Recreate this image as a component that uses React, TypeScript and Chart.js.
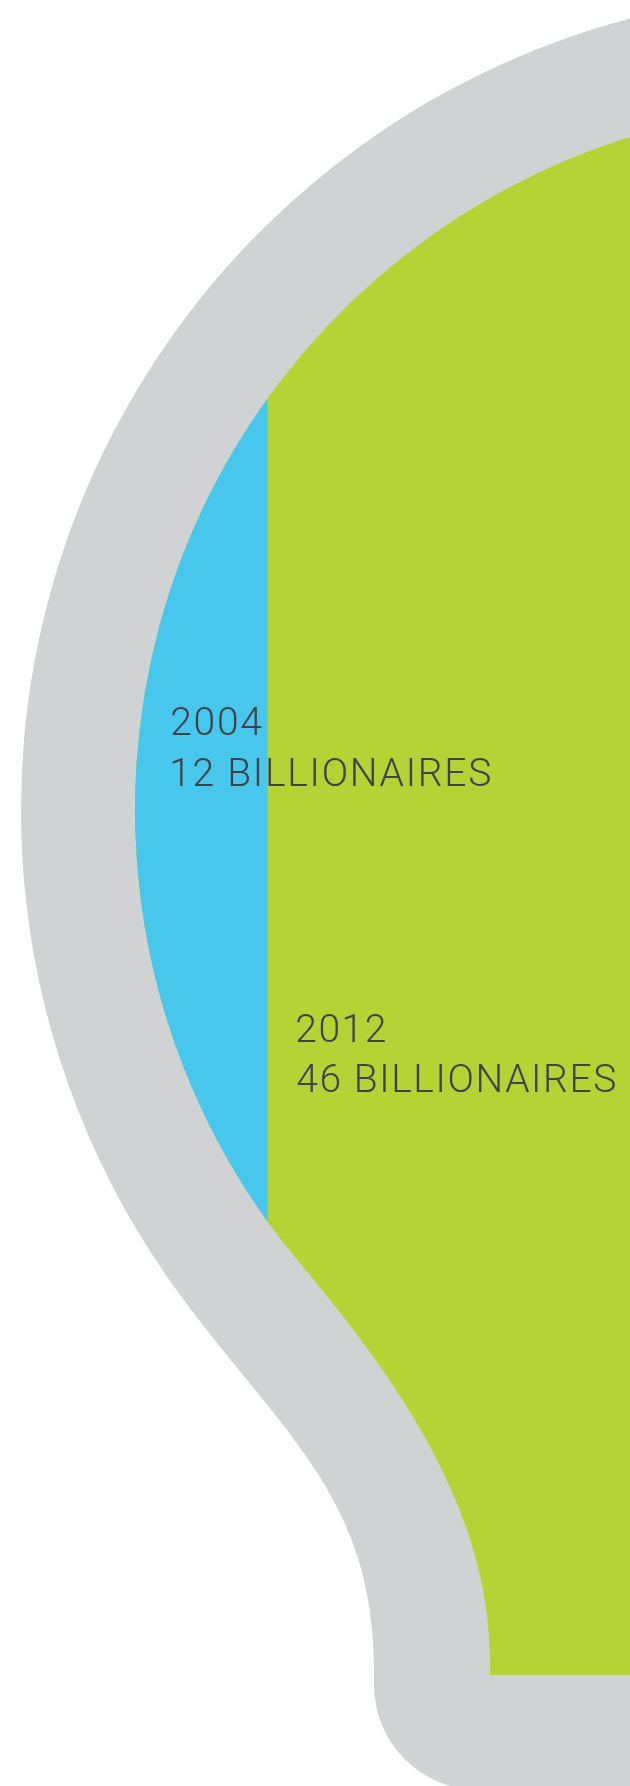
import React, { useEffect, useRef } from 'react';
import { Chart, registerables } from 'chart.js';

Chart.register(...registerables);

// ---- data ----
const categories = ['Billionaires'];
const years = ['2004', '2012'];
const billionaireCounts = [12, 46];
const countLabels = ['12 BILLIONAIRES', '46 BILLIONAIRES'];
const seriesColors = ['#48c7ec', '#b5d334'];

// ---- layout / style ----
const W = 630;
const H = 1786;
const AXIS_MIN = -12.3;
const AXIS_MAX = 45;
const GRAY = '#d1d2d4';
const TEXT_COLOR = '#414149';
const TEXT_WIDTH = 318;

// light-bulb frame geometry (pixels)
const C_X = 840;
const C_Y = 810;
const R_IN = 705;
const R_OUT = 819;
const OFF = W + 120;

function traceInner(ctx: CanvasRenderingContext2D) {
  const dxTop = OFF - C_X;
  const a0 = Math.atan2(-Math.sqrt(R_IN * R_IN - dxTop * dxTop), dxTop);
  const neckY = 1263;
  const dyN = neckY - C_Y;
  const a1 = Math.atan2(dyN, -Math.sqrt(R_IN * R_IN - dyN * dyN));
  ctx.moveTo(C_X + R_IN * Math.cos(a0), C_Y + R_IN * Math.sin(a0));
  ctx.arc(C_X, C_Y, R_IN, a0, a1, true);
  const px = C_X + R_IN * Math.cos(a1);
  const py = C_Y + R_IN * Math.sin(a1);
  const tx = Math.sin(a1);
  const ty = -Math.cos(a1);
  ctx.bezierCurveTo(px + tx * 150, py + ty * 150, 490, 1510, 490, 1660);
  ctx.lineTo(490, 1675);
  ctx.lineTo(OFF, 1675);
  ctx.closePath();
}

function traceOuter(ctx: CanvasRenderingContext2D) {
  const dxTop = OFF - C_X;
  const a0 = Math.atan2(-Math.sqrt(R_OUT * R_OUT - dxTop * dxTop), dxTop);
  const neckY = 1300;
  const dyN = neckY - C_Y;
  const a1 = Math.atan2(dyN, -Math.sqrt(R_OUT * R_OUT - dyN * dyN));
  ctx.moveTo(C_X + R_OUT * Math.cos(a0), C_Y + R_OUT * Math.sin(a0));
  ctx.arc(C_X, C_Y, R_OUT, a0, a1, true);
  const px = C_X + R_OUT * Math.cos(a1);
  const py = C_Y + R_OUT * Math.sin(a1);
  const tx = Math.sin(a1);
  const ty = -Math.cos(a1);
  ctx.bezierCurveTo(px + tx * 170, py + ty * 170, 374, 1500, 374, 1670);
  ctx.lineTo(374, 1685);
  ctx.arc(479, 1685, 105, Math.PI, Math.PI / 2, true);
  ctx.lineTo(OFF, 1790);
  ctx.closePath();
}

function drawLabel(ctx: CanvasRenderingContext2D, x: number, y1: number, y2: number, year: string, label: string) {
  ctx.save();
  ctx.font = '300 39px Roboto';
  ctx.fillStyle = TEXT_COLOR;
  ctx.textBaseline = 'alphabetic';
  ctx.textAlign = 'left';
  const anyCtx = ctx as any;
  anyCtx.letterSpacing = '0px';
  const m = ctx.measureText(label);
  const ink = m.actualBoundingBoxRight + m.actualBoundingBoxLeft;
  const ls = Math.max(0, (TEXT_WIDTH - ink) / (label.length - 1));
  anyCtx.letterSpacing = ls.toFixed(2) + 'px';
  const m2 = ctx.measureText(label);
  ctx.fillText(label, x + m2.actualBoundingBoxLeft, y2);
  const my = ctx.measureText(year);
  ctx.fillText(year, x + my.actualBoundingBoxLeft, y1);
  ctx.restore();
}

const bulbPlugin = {
  id: 'bulbFrame',
  beforeDraw(chart: any) {
    const ctx = chart.ctx as CanvasRenderingContext2D;
    ctx.save();
    ctx.fillStyle = '#ffffff';
    ctx.fillRect(0, 0, W, H);
    ctx.beginPath();
    traceOuter(ctx);
    ctx.fillStyle = GRAY;
    ctx.fill();
    ctx.restore();
  },
  beforeDatasetsDraw(chart: any) {
    const ctx = chart.ctx as CanvasRenderingContext2D;
    ctx.save();
    ctx.beginPath();
    traceInner(ctx);
    ctx.clip();
  },
  afterDatasetsDraw(chart: any) {
    chart.ctx.restore();
  },
  afterDraw(chart: any) {
    const ctx = chart.ctx as CanvasRenderingContext2D;
    const xs = chart.scales.x;
    const x0 = xs.getPixelForValue(0) + 37;
    const x1 = xs.getPixelForValue(billionaireCounts[0]) + 30;
    drawLabel(ctx, x0, 735, 786, years[0], countLabels[0]);
    drawLabel(ctx, x1, 1042, 1092, years[1], countLabels[1]);
  },
};

export default function App() {
  const canvasRef = useRef<HTMLCanvasElement | null>(null);

  useEffect(() => {
    document.body.style.margin = '0';
    document.body.style.overflow = 'hidden';
    const canvas = canvasRef.current;
    if (!canvas) return;
    const chart = new Chart(canvas, {
      type: 'bar',
      data: {
        labels: categories,
        datasets: years.map((yr, i) => ({
          label: yr,
          data: [billionaireCounts[i]],
          backgroundColor: seriesColors[i],
          borderWidth: 0,
          grouped: false,
          barPercentage: 1,
          categoryPercentage: 1,
          order: i,
        })),
      },
      options: {
        indexAxis: 'y',
        animation: false,
        responsive: false,
        maintainAspectRatio: false,
        devicePixelRatio: 1,
        layout: { padding: 0 },
        plugins: {
          legend: { display: false },
          tooltip: { enabled: false },
          title: { display: false },
        },
        scales: {
          x: { type: 'linear', display: false, min: AXIS_MIN, max: AXIS_MAX },
          y: { display: false },
        },
      } as any,
      plugins: [bulbPlugin],
    });
    return () => chart.destroy();
  }, []);

  return (
    <div style={{ position: 'absolute', left: 0, top: 0, width: W, height: H, background: '#fff' }}>
      <canvas ref={canvasRef} width={W} height={H} style={{ width: W, height: H, display: 'block' }} />
    </div>
  );
}
